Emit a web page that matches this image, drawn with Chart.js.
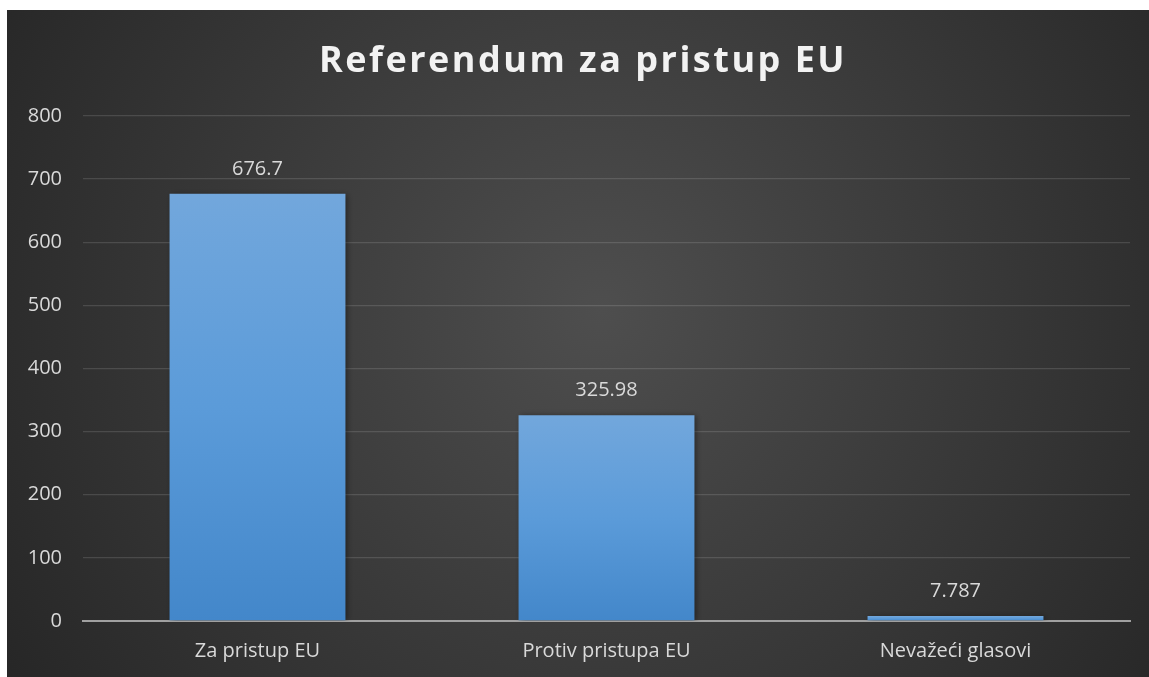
<!DOCTYPE html>
<html>
<head>
<meta charset="utf-8">
<script src="https://cdn.jsdelivr.net/npm/chart.js@4/dist/chart.umd.min.js"></script>
<style>
    html, body { margin: 0; padding: 0; background: #fff; }
    #wrap { position: absolute; left: 7px; top: 10px; width: 1142px; height: 667px; }
</style>
</head>
<body>
<div id="wrap"><canvas id="graficoReferendum"></canvas></div>
<script>
var naslov = 'Referendum za pristup EU';
var kategorije = ['Za pristup EU', 'Protiv pristupa EU', 'Nevažeći glasovi'];
var glasovi = [676.7, 325.98, 7.787];
var oznakeVrijednosti = ['676.7', '325.98', '7.787'];

var pozadina = {
    id: 'pozadina',
    beforeDraw: function(chart) {
        var ctx = chart.ctx;
        var w = chart.width, h = chart.height;
        var g = ctx.createRadialGradient(w * 0.52, h * 0.45, 0, w * 0.52, h * 0.45, w * 0.62);
        g.addColorStop(0, '#4e4e4e');
        g.addColorStop(1, '#262626');
        ctx.save();
        ctx.fillStyle = g;
        ctx.fillRect(0, 0, w, h);
        ctx.restore();
    }
};

var naslovPlugin = {
    id: 'naslovPlugin',
    afterDraw: function(chart) {
        var ctx = chart.ctx;
        ctx.save();
        ctx.font = 'bold 36px "Open Sans"';
        ctx.letterSpacing = '2.5px';
        ctx.fillStyle = '#f2f2f2';
        ctx.textAlign = 'center';
        ctx.textBaseline = 'alphabetic';
        ctx.fillText(naslov, chart.width / 2 + 5, 62);
        ctx.restore();
    }
};

var sjena = {
    id: 'sjena',
    beforeDatasetsDraw: function(chart) {
        var ctx = chart.ctx;
        ctx.save();
        ctx.shadowColor = 'rgba(0,0,0,0.45)';
        ctx.shadowBlur = 6;
        ctx.shadowOffsetX = 2;
        ctx.shadowOffsetY = 1;
    },
    afterDatasetsDraw: function(chart) {
        chart.ctx.restore();
        var ctx = chart.ctx;
        var meta = chart.getDatasetMeta(0);
        ctx.save();
        ctx.font = '20px "Open Sans"';
        ctx.fillStyle = '#d9d9d9';
        ctx.textAlign = 'center';
        ctx.textBaseline = 'middle';
        meta.data.forEach(function(bar, i) {
            ctx.fillText(oznakeVrijednosti[i], bar.x, bar.y - 25);
        });
        ctx.restore();
    }
};

function bojaStupca(context) {
    var chart = context.chart;
    if (!chart.chartArea || context.parsed === undefined) return '#5b9bd5';
    var y = chart.scales.y;
    var top = y.getPixelForValue(context.parsed.y);
    var base = y.getPixelForValue(0);
    if (base - top < 2) return '#5e9ad6';
    var g = chart.ctx.createLinearGradient(0, top, 0, base);
    g.addColorStop(0, '#72a7dc');
    g.addColorStop(0.5, '#5b9bd9');
    g.addColorStop(1, '#4387ca');
    return g;
}

new Chart(document.getElementById('graficoReferendum').getContext('2d'), {
    type: 'bar',
    data: {
        labels: kategorije,
        datasets: [{
            label: naslov,
            data: glasovi,
            backgroundColor: bojaStupca,
            borderWidth: 0,
            categoryPercentage: 1,
            barPercentage: 0.504
        }]
    },
    options: {
        responsive: true,
        maintainAspectRatio: false,
        animation: false,
        devicePixelRatio: 1,
        layout: { padding: { top: 106, right: 19, bottom: 0, left: 0 } },
        plugins: {
            legend: { display: false },
            title: { display: false },
            tooltip: { enabled: false }
        },
        scales: {
            x: {
                grid: { display: false, drawTicks: false },
                border: { display: true, color: '#a0a0a0', width: 2 },
                ticks: { color: '#d9d9d9', font: { family: 'Open Sans', size: 20 }, padding: 18 },
                afterFit: function(scale) { scale.height = 56; }
            },
            y: {
                min: 0,
                max: 800,
                ticks: { stepSize: 100, color: '#d9d9d9', font: { family: 'Open Sans', size: 20 }, padding: 21 },
                grid: { color: 'rgba(255,255,255,0.13)', lineWidth: 1.3, drawTicks: false },
                border: { display: false },
                afterFit: function(scale) { scale.width = 76; }
            }
        }
    },
    plugins: [pozadina, sjena, naslovPlugin]
});
</script>
</body>
</html>
